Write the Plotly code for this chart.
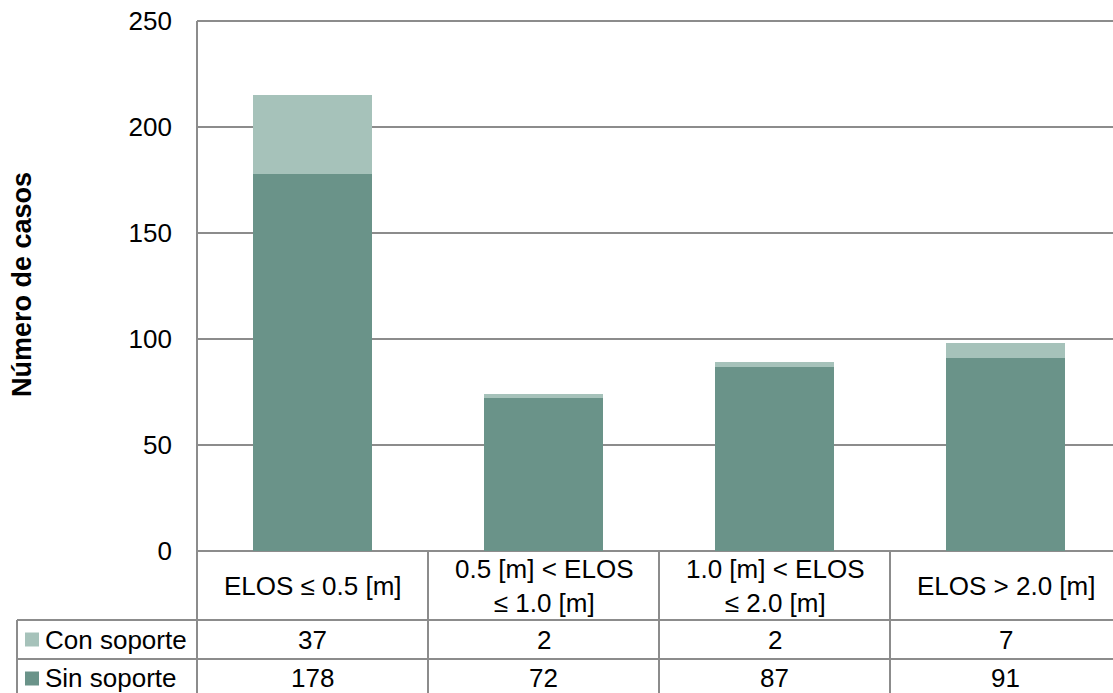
import plotly.graph_objects as go

# --- data ---------------------------------------------------------------
categorias = [
    "ELOS ≤ 0.5 [m]",
    "0.5 [m] < ELOS<br>≤ 1.0 [m]",
    "1.0 [m] < ELOS<br>≤ 2.0 [m]",
    "ELOS > 2.0 [m]",
]
sin_soporte = [178, 72, 87, 91]
con_soporte = [37, 2, 2, 7]
y_ticks = [0, 50, 100, 150, 200, 250]

# --- styling --------------------------------------------------------------
COL_SIN = "#6A9389"
COL_CON = "#A6C2BA"
GRID = "#8C8C8C"
FONT = "Liberation Sans, Arial, sans-serif"
FS = 26

W, H = 1113, 693
ML, MT, MB = 197, 21, 142
PLOT_W = W - ML
PLOT_H = H - MT - MB
CAT_W = 231
x0 = -0.5
x1 = x0 + PLOT_W / CAT_W


def px(xp):
    return (xp - ML) / PLOT_W


def py(yp):
    return (H - MB - yp) / PLOT_H


def cat_px(v):
    return ML + (v - x0) * CAT_W


fig = go.Figure()
x_idx = list(range(len(categorias)))
fig.add_trace(go.Bar(x=x_idx, y=sin_soporte, name="Sin soporte",
                     marker=dict(color=COL_SIN, line=dict(width=0))))
fig.add_trace(go.Bar(x=x_idx, y=con_soporte, name="Con soporte",
                     marker=dict(color=COL_CON, line=dict(width=0))))

# --- data table below the plot -----------------------------------------
plot_bottom = H - MB
row_hdr_bot = 620
row_con_bot = 659
row_sin_bot = 698
legend_left = 17

shapes = []
line = dict(color=GRID, width=2)
# horizontal rules
for yp in (row_hdr_bot, row_con_bot, row_sin_bot):
    shapes.append(dict(type="line", xref="paper", yref="paper",
                       x0=px(legend_left), x1=1.02, y0=py(yp), y1=py(yp), line=line))
# vertical rules between categories
for i in range(len(categorias)):
    xv = px(cat_px(i + 0.5))
    shapes.append(dict(type="line", xref="paper", yref="paper",
                       x0=xv, x1=xv, y0=py(plot_bottom), y1=py(row_sin_bot), line=line))
# left edge of the axis / table and legend column
shapes.append(dict(type="line", xref="paper", yref="paper",
                   x0=0, x1=0, y0=1, y1=py(row_sin_bot), line=line))
shapes.append(dict(type="line", xref="paper", yref="paper",
                   x0=px(legend_left), x1=px(legend_left),
                   y0=py(row_hdr_bot), y1=py(row_sin_bot), line=line))
# top rule
shapes.append(dict(type="line", xref="paper", yref="paper",
                   x0=0, x1=1.02, y0=1, y1=1, line=line))

annotations = []
hdr_mid = (plot_bottom + row_hdr_bot) / 2
con_mid = (row_hdr_bot + row_con_bot) / 2
sin_mid = (row_con_bot + row_sin_bot) / 2
for i, c in enumerate(categorias):
    xc = px(cat_px(i))
    annotations.append(dict(x=xc, y=py(hdr_mid), xref="paper", yref="paper",
                            text=c, showarrow=False, xanchor="center", yanchor="middle",
                            font=dict(size=FS, color="#000", family=FONT)))
    annotations.append(dict(x=xc, y=py(con_mid), xref="paper", yref="paper",
                            text=str(con_soporte[i]), showarrow=False,
                            xanchor="center", yanchor="middle",
                            font=dict(size=FS, color="#000", family=FONT)))
    annotations.append(dict(x=xc, y=py(sin_mid), xref="paper", yref="paper",
                            text=str(sin_soporte[i]), showarrow=False,
                            xanchor="center", yanchor="middle",
                            font=dict(size=FS, color="#000", family=FONT)))

# legend keys inside the table
for name, col, mid in (("Con soporte", COL_CON, con_mid), ("Sin soporte", COL_SIN, sin_mid)):
    shapes.append(dict(type="rect", xref="paper", yref="paper",
                       x0=px(25), x1=px(39), y0=py(mid - 7), y1=py(mid + 7),
                       fillcolor=col, line=dict(width=0)))
    annotations.append(dict(x=px(43), y=py(mid), xref="paper", yref="paper",
                            text=name, showarrow=False, xanchor="left", yanchor="middle",
                            font=dict(size=FS, color="#000", family=FONT)))

# y-axis title
annotations.append(dict(x=px(22), y=py(285), xref="paper", yref="paper",
                        text="<b>Número de casos</b>", textangle=-90, showarrow=False,
                        xanchor="center", yanchor="middle",
                        font=dict(size=27, color="#000", family=FONT)))

fig.update_layout(
    width=W, height=H,
    margin=dict(l=ML, r=0, t=MT, b=MB, pad=0),
    barmode="stack",
    bargap=1 - 119 / CAT_W,
    plot_bgcolor="white", paper_bgcolor="white",
    showlegend=False,
    font=dict(family=FONT, size=FS, color="#000"),
    shapes=shapes,
    annotations=annotations,
    xaxis=dict(range=[x0, x1], showticklabels=False, showgrid=False,
               zeroline=False, showline=False, ticks="", fixedrange=True),
    yaxis=dict(range=[0, 250], tickvals=y_ticks, showgrid=True, gridcolor=GRID,
               gridwidth=2, zeroline=True, zerolinecolor=GRID, zerolinewidth=2,
               showline=False, ticks="", ticklabelstandoff=24,
               tickfont=dict(size=FS, family=FONT, color="#000"), fixedrange=True),
)

fig.write_html("out.html")
